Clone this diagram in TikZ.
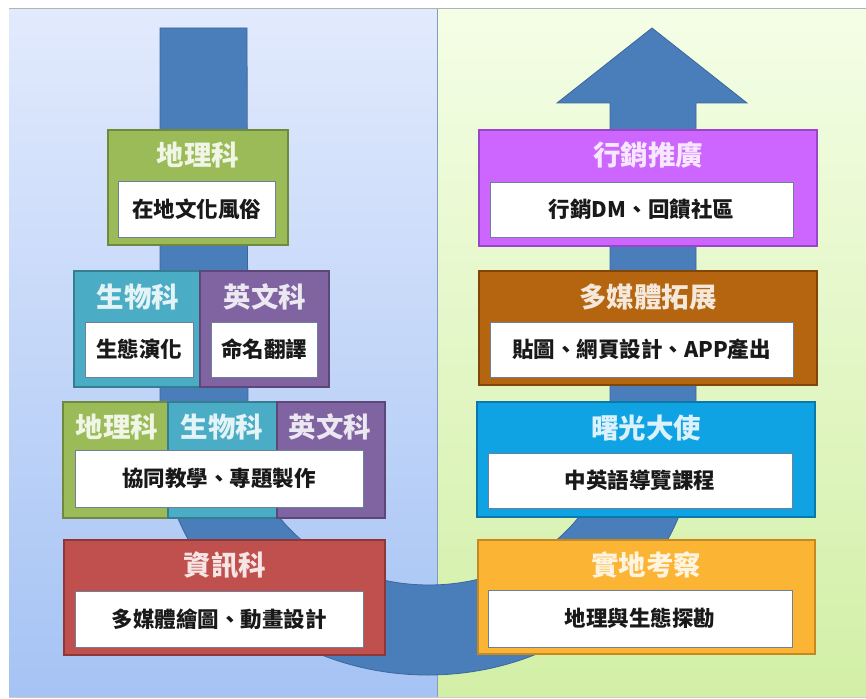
\documentclass[tikz,border=0pt]{standalone}
\usepackage{fontspec}
\setmainfont{Noto Sans CJK TC}
\definecolor{cgreen}{HTML}{9BBB59} \definecolor{cgreenD}{HTML}{71893F}
\definecolor{cteal}{HTML}{4BACC6} \definecolor{ctealD}{HTML}{357D91}
\definecolor{cpurp}{HTML}{8064A2} \definecolor{cpurpD}{HTML}{5C4776}
\definecolor{cred}{HTML}{C0504D} \definecolor{credD}{HTML}{8C3836}
\definecolor{cmag}{HTML}{CC66FF} \definecolor{cmagD}{HTML}{9A44C8}
\definecolor{cbrown}{HTML}{B5650F} \definecolor{cbrownD}{HTML}{7F4608}
\definecolor{csky}{HTML}{10A3E3} \definecolor{cskyD}{HTML}{0A78A8}
\definecolor{corange}{HTML}{FBB433} \definecolor{corangeD}{HTML}{C48A1F}
\definecolor{carrow}{HTML}{4A7EBB} \definecolor{carrowD}{HTML}{3B679C}
\definecolor{bgBtop}{HTML}{E2EAFD} \definecolor{bgBbot}{HTML}{A5C3F4}
\definecolor{bgGtop}{HTML}{F4FEE6} \definecolor{bgGbot}{HTML}{D2EFA6}
\definecolor{innerline}{HTML}{6E7F99}
\begin{document}
\begin{tikzpicture}[x=1pt,y=-1pt,
  obox/.style={draw=#1D, fill=#1, line width=1.6pt, anchor=north west, inner sep=0pt, outer sep=0pt},
  ibox/.style={draw=innerline, fill=white, line width=0.9pt, anchor=north west, inner sep=0pt, outer sep=0pt,
    font=\fontsize{21.5}{25}\selectfont\bfseries, text=black!90},
  ttl/.style={font=\fontsize{27.5}{32}\selectfont\bfseries, text=white!85!#1, inner sep=0pt}]
\useasboundingbox (0,0) rectangle (866,698);
% backgrounds
\fill[white] (0,0) rectangle (866,698);
\shade[top color=bgBtop, bottom color=bgBbot] (9,9) rectangle (437,697);
\shade[top color=bgGtop, bottom color=bgGbot] (438,9) rectangle (866,697);
\draw[color=black!30, line width=1.5pt] (9,8.5) -- (866,8.5);
\draw[color=black!20, line width=0.8pt] (9,697) -- (866,697);
\draw[color=bgBbot!80!black, line width=0.6pt] (437,9) -- (437,697);
% U-turn arrow
\draw[fill=carrow, draw=carrowD, line width=0.8pt]
  (160,28) -- (160,430)
  arc[start angle=180, end angle=0, x radius=268, y radius=245]
  -- (696,103) -- (747,103) -- (652,28) -- (557,103) -- (610,103) -- (610,430)
  arc[start angle=0, end angle=180, x radius=181, y radius=155]
  -- (247,28) -- cycle;
% left column
\node[obox=cgreen, minimum width=180pt, minimum height=115pt] (geo) at (108,130) {};
\node[ttl=cgreen] (geoT) at (198,155) {地理科};
\node[ibox, minimum width=157pt, minimum height=56pt] (geoI) at (118,181) {在地文化風俗};

\node[obox=cteal, minimum width=126pt, minimum height=116pt] (bio) at (74,271) {};
\node[obox=cpurp, minimum width=129pt, minimum height=116pt] (eng) at (200,271) {};
\node[ttl=cteal] (bioT) at (138,297) {生物科};
\node[ttl=cpurp] (engT) at (265,297) {英文科};
\node[ibox, minimum width=108pt, minimum height=55pt] (bioI) at (85,322) {生態演化};
\node[ibox, minimum width=106pt, minimum height=55pt] (engI) at (211,322) {命名翻譯};

\node[obox=cgreen, minimum width=105pt, minimum height=116pt] (c1) at (63,402) {};
\node[obox=cteal, minimum width=109pt, minimum height=116pt] (c2) at (168,402) {};
\node[obox=cpurp, minimum width=108pt, minimum height=116pt] (c3) at (277,402) {};
\node[ttl=cgreen] (c1T) at (117,427) {地理科};
\node[ttl=cteal] (c2T) at (222,427) {生物科};
\node[ttl=cpurp] (c3T) at (330,427) {英文科};
\node[ibox, minimum width=288pt, minimum height=57pt] (cI) at (75,450) {協同教學、專題製作};

\node[obox=cred, minimum width=321pt, minimum height=115pt] (info) at (64,540) {};
\node[ttl=cred] (infoT) at (225,565) {資訊科};
\node[ibox, minimum width=288pt, minimum height=56pt] (infoI) at (75,591) {多媒體繪圖、動畫設計};
% right column
\node[obox=cmag, minimum width=338pt, minimum height=116pt] (mkt) at (479,130) {};
\node[ttl=cmag] (mktT) at (648,155) {行銷推廣};
\node[ibox, minimum width=303pt, minimum height=55pt] (mktI) at (490,182) {行銷DM、回饋社區};

\node[obox=cbrown, minimum width=338pt, minimum height=114pt] (mm) at (479,271) {};
\node[ttl=cbrown] (mmT) at (648,297) {多媒體拓展};
\node[ibox, minimum width=303pt, minimum height=55pt] (mmI) at (490,322) {貼圖、網頁設計、APP產出};

\node[obox=csky, minimum width=338pt, minimum height=115pt] (amb) at (477,402) {};
\node[ttl=csky] (ambT) at (646,428) {曙光大使};
\node[ibox, minimum width=304pt, minimum height=55pt] (ambI) at (488,453) {中英語導覽課程};

\node[obox=corange, minimum width=337pt, minimum height=114pt] (fld) at (478,540) {};
\node[ttl=corange] (fldT) at (646,565) {實地考察};
\node[ibox, minimum width=304pt, minimum height=57pt] (fldI) at (488,590) {地理與生態探勘};
\end{tikzpicture}
\end{document}
